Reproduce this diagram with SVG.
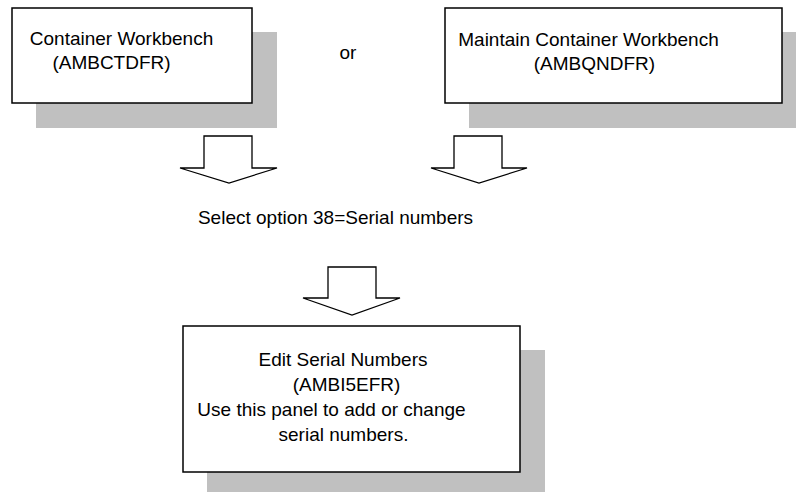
<svg xmlns="http://www.w3.org/2000/svg" width="796" height="492" viewBox="0 0 796 492">
<style>
.shadow{fill:#C0C0C0;stroke:none}
.box{fill:#FFFFFF;stroke:#000000;stroke-width:1.5}
.arrow{fill:#FFFFFF;stroke:#000000;stroke-width:1.3;stroke-linejoin:miter}
text{font-family:"Liberation Sans",Arial,sans-serif;font-size:19px;fill:#000000;text-anchor:middle}
</style>
<rect width="796" height="492" fill="#FFFFFF"/>
<g id="node-container-workbench">
<rect class="shadow" x="36" y="32" width="241" height="96"/>
<rect class="box" x="12" y="8" width="240" height="95"/>
<text x="121.5" y="45">Container Workbench</text>
<text x="111.5" y="69">(AMBCTDFR)</text>
</g>
<g id="node-or">
<text x="348" y="59">or</text>
</g>
<g id="node-maintain-container-workbench">
<rect class="shadow" x="469" y="32" width="327" height="96"/>
<rect class="box" x="445" y="8" width="337" height="95"/>
<text x="588.5" y="46">Maintain Container Workbench</text>
<text x="594.5" y="70">(AMBQNDFR)</text>
</g>
<g id="node-select-option">
<text x="335.5" y="224">Select option 38=Serial numbers</text>
</g>
<g id="node-edit-serial-numbers">
<rect class="shadow" x="207" y="350" width="338" height="146"/>
<rect class="box" x="183" y="326" width="337" height="146"/>
<text x="343" y="366">Edit Serial Numbers</text>
<text x="346.5" y="391">(AMBI5EFR)</text>
<text x="331.5" y="416">Use this panel to add or change</text>
<text x="343.5" y="441">serial numbers.</text>
</g>
<g id="connectors">
<polygon class="arrow" points="204,136 252,136 252,168 277,168 229,183 180,168 204,168"/>
<polygon class="arrow" points="454,136 502,136 502,168 527,168 479,183 431,168 454,168"/>
<polygon class="arrow" points="328,267 376,267 376,298 400,298 352,315 303,298 328,298"/>
</g>
</svg>
